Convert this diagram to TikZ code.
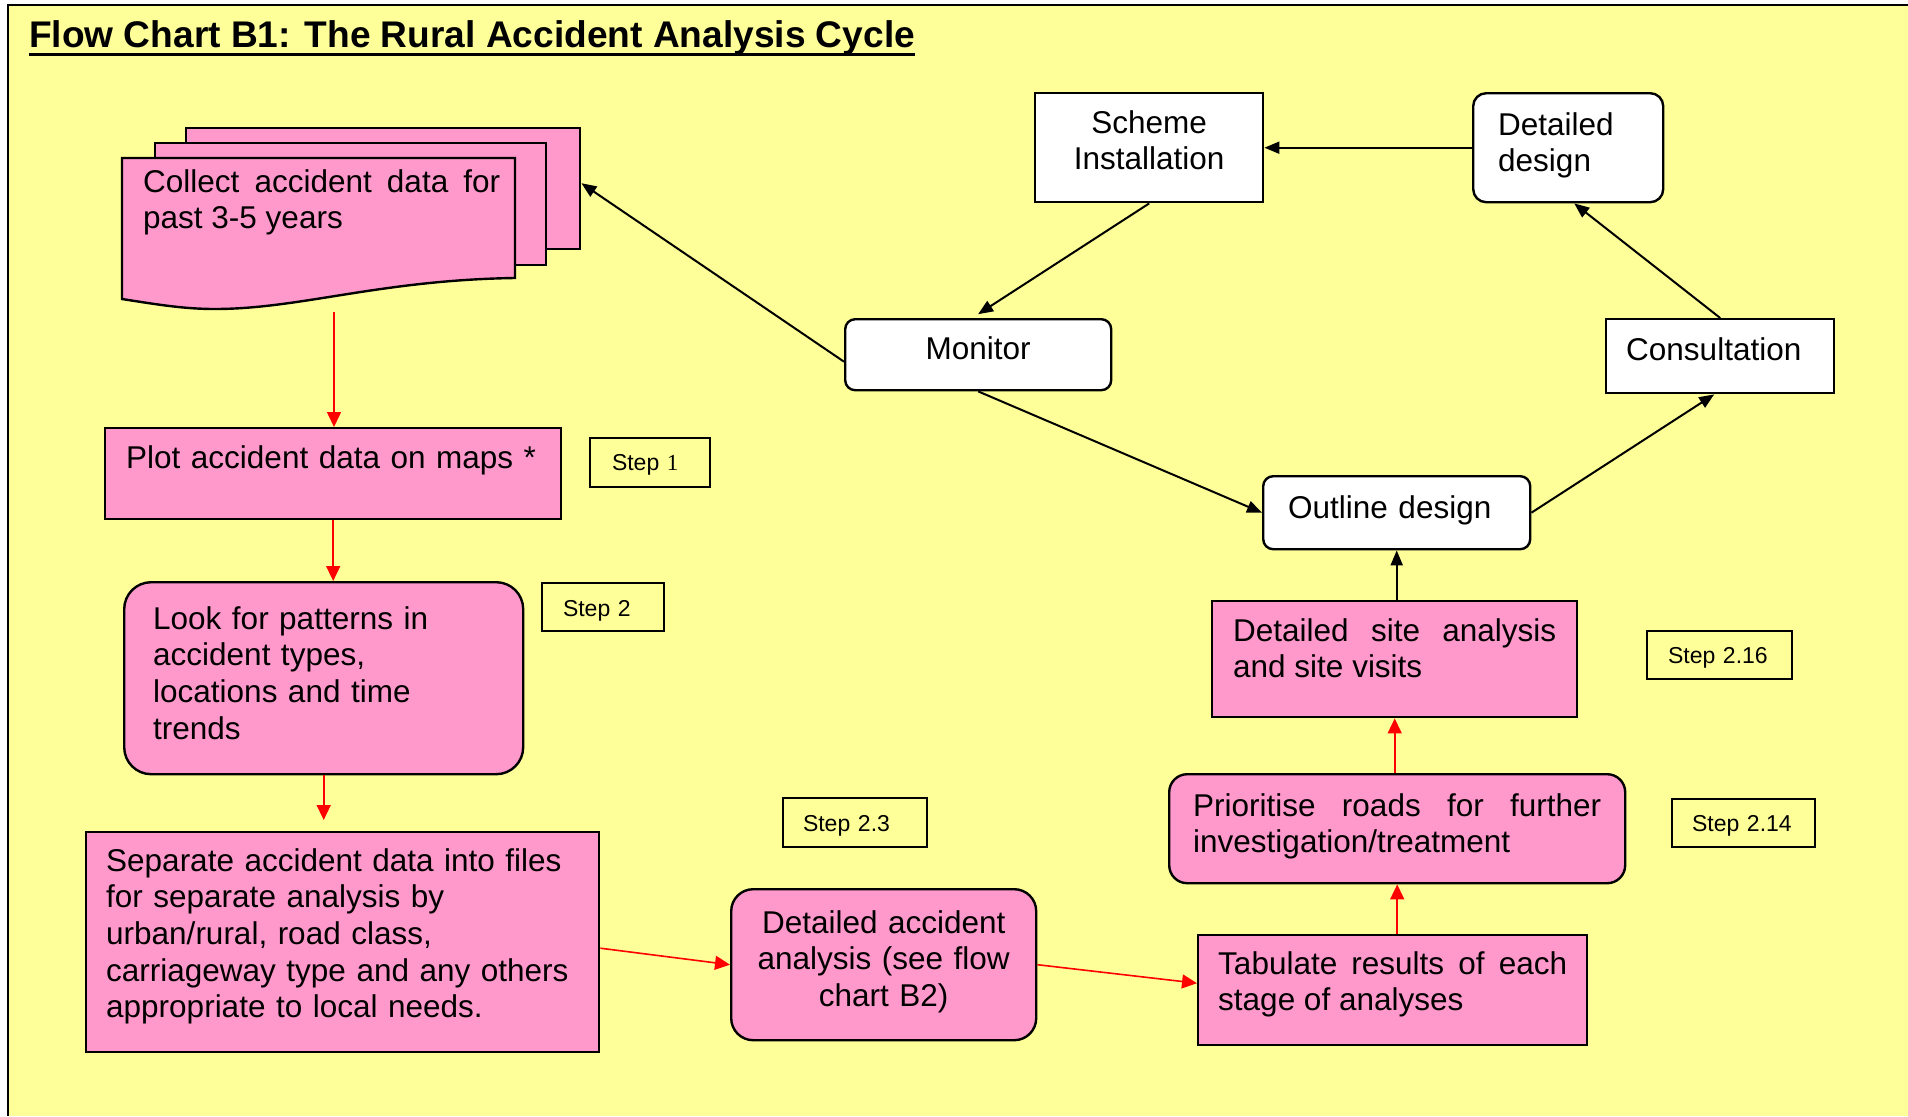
\documentclass[tikz,border=0pt]{standalone}
\usepackage{fontspec}
\setmainfont{Liberation Sans}
\newfontfamily\numserif{Liberation Serif}
\usetikzlibrary{arrows.meta}
\definecolor{paper}{HTML}{FFFF99}
\definecolor{rose}{HTML}{FF99CC}
\hyphenpenalty=10000
\exhyphenpenalty=10000
\newcommand\bodysize{\fontsize{31.5pt}{36.6pt}\selectfont}
\newcommand\stepsize{\fontsize{23pt}{27pt}\selectfont}
\newcommand\titlesize{\fontsize{37.1pt}{42pt}\selectfont\bfseries}
\tikzset{
  % card: pink process box; text width / padding / first baseline / rest below
  card/.style={draw=black, line width=2.4pt, fill=rose, anchor=north west,
    inner ysep=0pt, font=\bodysize},
  plain/.style={card, fill=white},
  tag/.style={draw=black, line width=2pt, anchor=north west, inner ysep=0pt,
    font=\stepsize, align=left},
  page/.style={draw=black, line width=2.4pt, fill=rose, anchor=north west,
    inner sep=0pt},
  dims/.style n args={4}{text width=#1pt, inner xsep=#2pt, text height=#3pt,
    text depth=#4pt},
  flow/.style={draw=black, line width=2pt, -{Triangle[length=15pt,width=12pt]}},
  redflow/.style={draw=red, line width=1.6pt, -{Triangle[length=15pt,width=14pt]}},
}
\begin{document}
\begin{tikzpicture}[x=1pt, y=-1pt]
  \useasboundingbox (0,0) rectangle (1908,1116);
  \fill[white] (0,0) rectangle (1908,1116);
  \fill[paper] (8,5) rectangle (1908,1116);
  \draw[line width=2pt] (8,1116) -- (8,5) -- (1908,5);

  % heading
  \node[anchor=base west, inner sep=0pt, font=\titlesize] (title) at (29,48)
    {Flow Chart B1: The Rural Accident Analysis Cycle};
  \draw[line width=3pt] ([yshift=-7pt]title.base west) -- ([yshift=-7pt]title.base east);

  % stacked data sheets
  \node[page, minimum width=394pt, minimum height=121pt] (pageback) at (185,127) {};
  \node[page, minimum width=391pt, minimum height=122pt] (pagemid) at (154,142) {};
  \filldraw[fill=rose, draw=black, line width=2.4pt]
    (122,158) -- (515,158) -- (515,278)
    .. controls (380,280) and (300,309) .. (215,309)
    .. controls (185,309) and (160,305) .. (122,299) -- cycle;
  \node[anchor=base west, inner sep=0pt, text width=357pt, align=justify,
    font=\bodysize] (collect) at (143,192)
    {Collect accident data for\break past 3-5 years};
  \coordinate (docfoot) at (334,312);

  % left column
  \node[card, dims={414}{21}{40}{51}, align=left] (plot) at (104,427)
    {Plot accident data on maps *};
  \node[tag, dims={76}{22}{32}{17}] (s1) at (589,437) {Step {\numserif 1}};
  \node[card, rounded corners=27pt, dims={341}{29}{47}{145}, align=left] (look) at (123,581)
    {Look for patterns in\\accident types,\\locations and time\\trends};
  \node[tag, dims={80}{21}{33}{15}] (s2) at (541,582) {Step 2};
  \node[card, dims={473}{20}{39}{181}, align=left] (sep) at (85,831)
    {Separate accident data into files\\for separate analysis by\\urban/rural, road class,\\carriageway type and any others\\appropriate to local needs.};

  % bottom row
  \node[card, rounded corners=22pt, dims={285}{10}{44}{107}, align=center] (dacc) at (730,888)
    {Detailed accident\\analysis (see flow\\chart B2)};
  \node[tag, dims={104}{20}{33}{16}] (s23) at (782,797) {Step 2.3};
  \node[card, dims={349}{20}{39}{71}, align=justify] (tab) at (1197,934)
    {Tabulate results of each\break stage of analyses};

  % right column
  \node[card, rounded corners=18pt, dims={408}{24}{42}{67}, align=justify] (prior) at (1168,773)
    {Prioritise roads for further\break investigation/treatment};
  \node[tag, dims={103}{20}{32}{16}] (s214) at (1671,798) {Step 2.14};
  \node[card, dims={323}{21}{40}{76}, align=justify] (dsite) at (1211,600)
    {Detailed site analysis\break and site visits};
  \node[tag, dims={103}{21}{32}{16}] (s216) at (1646,630) {Step 2.16};

  % design and installation cycle
  \node[plain, rounded corners=10pt, dims={217}{25}{42}{31}, align=left] (outline) at (1262,475)
    {Outline design};
  \node[plain, rounded corners=10pt, dims={246}{10}{40}{31}, align=center] (monitor) at (844,318)
    {Monitor};
  \node[plain, dims={188}{20}{41}{33}, align=left] (consult) at (1605,318)
    {Consultation};
  \node[plain, dims={208}{10}{40}{69}, align=center] (scheme) at (1034,92)
    {Scheme\\Installation};
  \node[plain, rounded corners=13pt, dims={140}{25}{42}{67}, align=left] (ddesign) at (1472,92)
    {Detailed\\design};

  % red analysis flow
  \draw[redflow] (docfoot) -- (docfoot |- plot.north);
  \draw[redflow] (plot.south) -- (plot.south |- look.north);
  \draw[redflow, shorten >=11pt] (look.south) -- (look.south |- sep.north);
  \draw[redflow] ([yshift=-6pt]sep.east) -- (dacc.west);
  \draw[redflow] (dacc.east) -- ([yshift=7pt]tab.west);
  \draw[redflow] (prior.south |- tab.north) -- (prior.south);
  \draw[redflow] (prior.north -| dsite.south) -- (dsite.south);

  % black design cycle
  \draw[flow] (dsite.north -| outline.south) -- (outline.south);
  \draw[flow] (outline.east) -- ([xshift=-6pt]consult.south);
  \draw[flow] (consult.north) -- ([xshift=6pt]ddesign.south);
  \draw[flow] (ddesign.west) -- (scheme.east);
  \draw[flow, shorten >=7pt] (scheme.south) -- ([xshift=-6pt]monitor.north);
  \draw[flow] (monitor.south) -- (outline.west);
  \draw[flow] ([yshift=-7pt]monitor.west) -- ([yshift=5.5pt]pageback.east);
\end{tikzpicture}
\end{document}
